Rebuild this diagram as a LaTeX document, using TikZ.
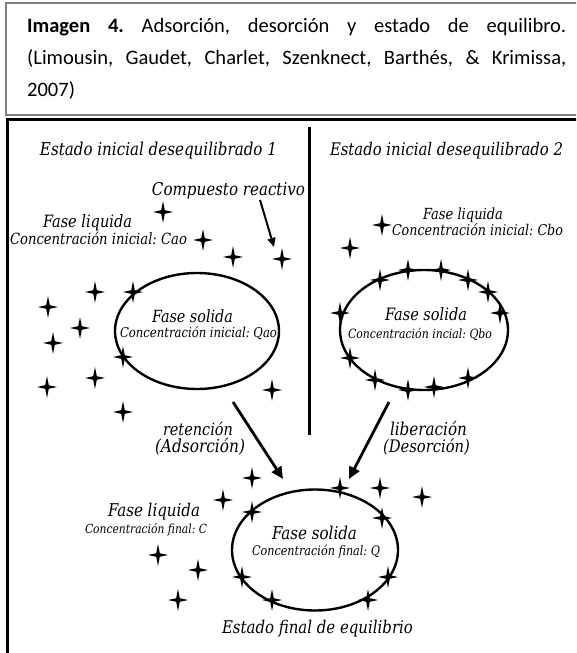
\documentclass[tikz,border=0pt]{standalone}
\usepackage{fontspec}
\usepackage{graphicx}
\setmainfont{Carlito}
\newfontfamily\dfont{DejaVu Serif}
\usetikzlibrary{arrows.meta,shapes.geometric}
\frenchspacing
\newcommand{\tw}[2]{\scalebox{1}[1.17]{\resizebox{#1pt}{!}{\dfont\itshape\fontsize{16}{16}\selectfont #2}}}
\tikzset{
  lbl/.style={anchor=base, inner sep=0pt, outer sep=0pt},
  captext/.style={anchor=base west, inner sep=0pt, font=\fontsize{20.5}{24}\selectfont},
  solidph/.style={draw, ellipse, line width=2.4pt, inner sep=0pt},
  bigarrow/.style={line width=2.8pt, -{Triangle[length=12pt,width=11pt]}},
  thinarrow/.style={line width=2pt, -{Triangle[length=9pt,width=8pt]}},
  spark/.pic={\fill[black] (0,-11) -- (1.8,-1.8) -- (10,0) -- (1.8,1.8) -- (0,11) -- (-1.8,1.8) -- (-10,0) -- (-1.8,-1.8) -- cycle;}
}
\begin{document}
\begin{tikzpicture}[x=1pt,y=-1pt]
\useasboundingbox (0,0) rectangle (576,653);
\clip (0,0) rectangle (576,653);
\fill[white] (0,0) rectangle (576,653);
% caption box
\draw[line width=1.5pt, gray] (6,3) rectangle (600,115);
\node[captext] (cap1) at (27,32) {\makebox[539pt][s]{\textbf{Imagen 4.} Adsorción, desorción y estado de equilibro.}};
\node[captext] (cap2) at (27,64) {\makebox[539pt][s]{(Limousin, Gaudet, Charlet, Szenknect, Barthés, \& Krimissa,}};
\node[captext] (cap3) at (27,96) {2007)};
% diagram frame
\draw[line width=2.5pt] (7.5,670) -- (7.5,119.5) -- (600,119.5);
% divider
\draw[line width=3pt] (309,127) -- (309,435);
% ellipses
\node[solidph, minimum width=164pt, minimum height=116pt] (e1) at (197,331) {};
\node[solidph, minimum width=168pt, minimum height=120pt] (e2) at (424,330) {};
\node[solidph, minimum width=166pt, minimum height=121pt] (e3) at (315,550) {};
% texts
\node[lbl] (t1) at (158.5,155.5) {\tw{237}{Estado inicial desequilibrado 1}};
\node[lbl] (t2) at (446.5,155.5) {\tw{233}{Estado inicial desequilibrado 2}};
\node[lbl] (cr) at (228.5,195) {\tw{153}{Compuesto reactivo}};
\node[lbl] (fl1) at (87.5,227.5) {\tw{89}{Fase liquida}};
\node[lbl] (cl1) at (98.5,244.5) {\tw{177}{Concentración inicial: Cao}};
\node[lbl] (fl2) at (463,219.5) {\tw{80}{Fase liquida}};
\node[lbl] (cl2) at (477.5,235.5) {\tw{171}{Concentración inicial: Cbo}};
\node[lbl] (fs1) at (192.5,322) {\tw{81}{Fase solida}};
\node[lbl] (cs1) at (198.5,337) {\tw{157}{Concentración inicial: Qao}};
\node[lbl] (fs2) at (426,320) {\tw{82}{Fase solida}};
\node[lbl] (cs2) at (420,338) {\tw{144}{Concentración incial: Qbo}};
\node[lbl] (ret) at (198,435) {\tw{70}{retención}};
\node[lbl] (ads) at (200,452) {\tw{90}{(Adsorción)}};
\node[lbl] (lib) at (428.5,435) {\tw{77}{liberación}};
\node[lbl] (des) at (426.5,452) {\tw{87}{(Desorción)}};
\node[lbl] (fl3) at (154,516) {\tw{92}{Fase liquida}};
\node[lbl] (cl3) at (146,533.5) {\tw{122}{Concentración final: C}};
\node[lbl] (fs3) at (314.5,539) {\tw{85}{Fase solida}};
\node[lbl] (cs3) at (316,555) {\tw{128}{Concentración final: Q}};
\node[lbl] (fin) at (317.5,633) {\tw{191}{Estado final de equilibrio}};
% arrows
\coordinate (c0s) at (260,200); \coordinate (c0e) at (274,247);
\coordinate (a1s) at (233,402); \coordinate (a1e) at (283,479);
\coordinate (a2s) at (389,402); \coordinate (a2e) at (349,479);
\draw[thinarrow] (c0s) -- (c0e);
\draw[bigarrow] (a1s) -- (a1e);
\draw[bigarrow] (a2s) -- (a2e);
% stars
\foreach \p in {(163,212),(203,240),(233,257),(282,259),(95,292),(133,292),(48,307),(80,328),(53,343),(123,357),(95,378),(47,387),(272,390),(123,412),
(382,225),(350,248),(380,280),(408,270),(441,270),(468,280),(488,292),(500,313),(340,313),(350,358),(375,380),(408,390),(434,387),(468,378),
(252,478),(223,500),(252,512),(340,488),(380,488),(422,497),(382,518),(158,555),(198,570),(242,577),(178,600),(272,600),(368,600),(388,577)}
  \pic at \p {spark};
\end{tikzpicture}
\end{document}
